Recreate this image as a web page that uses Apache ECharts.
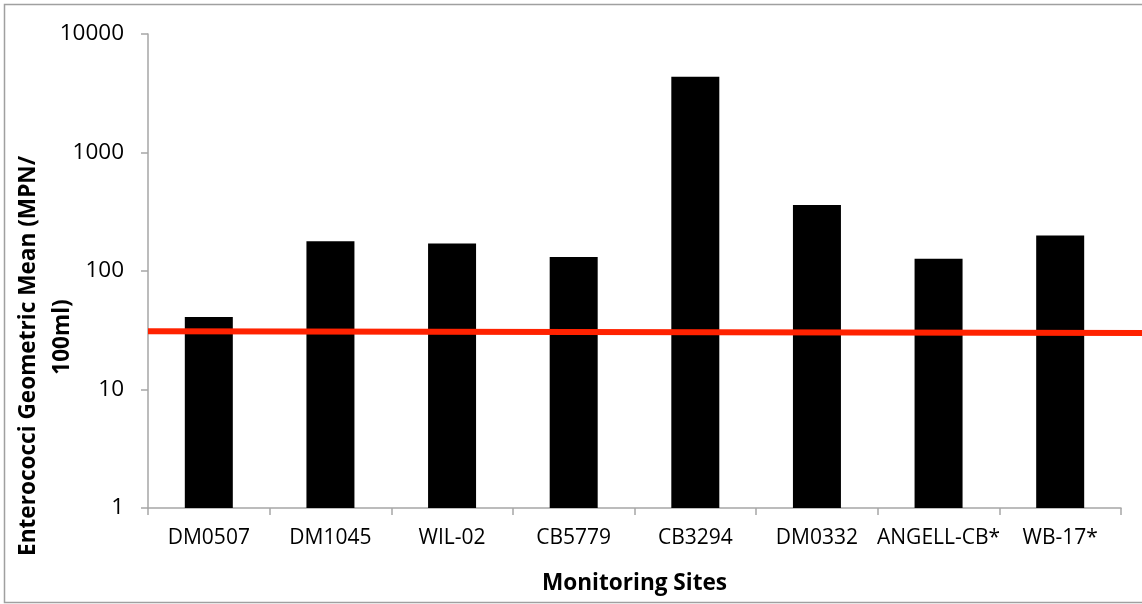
<!DOCTYPE html>
<html>
<head>
<meta charset="utf-8">
<script src="https://cdn.jsdelivr.net/npm/echarts@6/dist/echarts.min.js"></script>
<style>
html,body{margin:0;padding:0;background:#fff;}
#chart{width:1142px;height:604px;}
</style>
</head>
<body>
<div id="chart"></div>
<script>
const categories = ['DM0507','DM1045','WIL-02','CB5779','CB3294','DM0332','ANGELL-CB*','WB-17*'];
const geoMeans = [41, 178, 171, 131, 4360, 360, 127, 199];
const thresholdLine = [31, 30];
const yTicks = [1, 10, 100, 1000, 10000];
const yTitleLines = ['Enterococci Geometric Mean (MPN/', '100ml)'];
const xTitle = 'Monitoring Sites';

const FONT = 'Open Sans';
const chart = echarts.init(document.getElementById('chart'), null, {renderer: 'canvas'});
const axisGray = '#a6a6a6';

chart.setOption({
  animation: false,
  backgroundColor: '#fff',
  textStyle: {fontFamily: FONT},
  graphic: [{
    type: 'rect',
    shape: {x: 4.5, y: 4.5, width: 1160, height: 598},
    style: {fill: 'none', stroke: '#a0a0a0', lineWidth: 1.5},
    z: -10
  }, {
    type: 'text',
    rotation: Math.PI / 2,
    x: 29, y: 356,
    style: {
      text: yTitleLines[0],
      fontFamily: FONT, fontWeight: 'bold', fontSize: 22.6,
      fill: '#000', align: 'center', verticalAlign: 'middle'
    }
  }, {
    type: 'text',
    rotation: Math.PI / 2,
    x: 63, y: 337,
    style: {
      text: yTitleLines[1],
      fontFamily: FONT, fontWeight: 'bold', fontSize: 22.6,
      fill: '#000', align: 'center', verticalAlign: 'middle'
    }
  }],
  grid: [
    {left: 148, right: 21, top: 34, bottom: 96},
    {left: 148, right: 0, top: 34, bottom: 96}
  ],
  xAxis: [{
    type: 'category',
    gridIndex: 0,
    data: categories,
    axisLine: {lineStyle: {color: axisGray, width: 1.5}},
    axisTick: {show: true, length: 7, alignWithLabel: false, lineStyle: {color: axisGray, width: 1.5}},
    axisLabel: {color: '#000', fontSize: 21, fontFamily: FONT, margin: 20, interval: 0},
    name: xTitle,
    nameLocation: 'middle',
    nameGap: 64,
    nameTextStyle: {color: '#000', fontSize: 22.6, fontWeight: 'bold', fontFamily: FONT}
  }, {
    type: 'value',
    gridIndex: 1,
    min: 0, max: 1,
    show: false
  }],
  yAxis: [{
    type: 'log',
    gridIndex: 0,
    logBase: 10,
    min: yTicks[0],
    max: yTicks[yTicks.length - 1],
    axisLine: {show: true, lineStyle: {color: axisGray, width: 1.5}},
    axisTick: {show: true, length: 7, lineStyle: {color: axisGray, width: 1.5}},
    splitLine: {show: false},
    minorTick: {show: false},
    axisLabel: {color: '#000', fontSize: 22.5, fontFamily: FONT, margin: 24, formatter: v => String(Math.round(v))}
  }, {
    type: 'log',
    gridIndex: 1,
    logBase: 10,
    min: yTicks[0],
    max: yTicks[yTicks.length - 1],
    show: false
  }],
  series: [{
    type: 'bar',
    xAxisIndex: 0,
    yAxisIndex: 0,
    data: geoMeans,
    barWidth: 48,
    itemStyle: {color: '#000'},
    z: 2
  }, {
    type: 'line',
    xAxisIndex: 1,
    yAxisIndex: 1,
    data: [[0, thresholdLine[0]], [1, thresholdLine[1]]],
    showSymbol: false,
    symbol: 'none',
    lineStyle: {color: '#ff2200', width: 6},
    z: 5
  }]
});
</script>
</body>
</html>
